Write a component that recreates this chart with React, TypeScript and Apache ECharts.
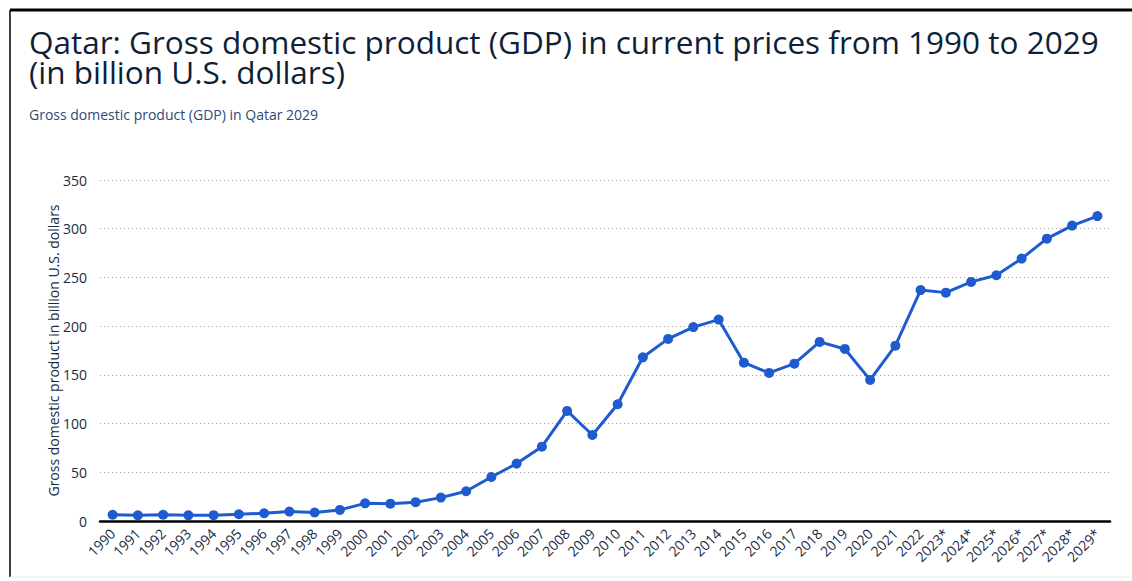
import React, { useEffect, useRef } from "react";
import * as echarts from "echarts";

const years = [
  "1990", "1991", "1992", "1993", "1994", "1995", "1996", "1997", "1998", "1999",
  "2000", "2001", "2002", "2003", "2004", "2005", "2006", "2007", "2008", "2009",
  "2010", "2011", "2012", "2013", "2014", "2015", "2016", "2017", "2018", "2019",
  "2020", "2021", "2022", "2023*", "2024*", "2025*", "2026*", "2027*", "2028*", "2029*",
];

const gdp = [
  6.4, 5.8, 6.4, 5.8, 6.0, 6.9, 8.0, 9.7, 8.7, 11.4,
  18.1, 17.8, 19.3, 24.0, 30.5, 45.2, 58.9, 76.3, 113.0, 88.3,
  119.8, 168.0, 186.9, 199.0, 206.7, 162.5, 152.0, 161.5, 183.8, 176.6,
  144.8, 180.0, 237.0, 234.4, 245.4, 252.2, 269.3, 289.8, 303.2, 313.0,
];

const titleLine1 = "Qatar: Gross domestic product (GDP) in current prices from 1990 to 2029";
const titleLine2 = "(in billion U.S. dollars)";
const subtitleText = "Gross domestic product (GDP) in Qatar 2029";
const yAxisName = "Gross domestic product in billion U.S. dollars";

const FONT = "'Open Sans', 'Noto Sans', sans-serif";

export default function App() {
  const ref = useRef<HTMLDivElement>(null);

  useEffect(() => {
    if (!ref.current) return;
    const chart = echarts.init(ref.current, undefined, { renderer: "svg" });
    const titleStyle = {
      fontFamily: FONT,
      fontSize: 31.5,
      lineHeight: 29,
      fontWeight: "normal",
      color: "#0f1f38",
    };
    chart.setOption({
      animation: false,
      backgroundColor: "#ffffff",
      textStyle: { fontFamily: FONT },
      title: [
        { text: titleLine1, left: 29, top: 27, padding: 0, textStyle: titleStyle },
        { text: titleLine2, left: 29, top: 57, padding: 0, textStyle: titleStyle },
        {
          text: subtitleText,
          left: 29,
          top: 107,
          padding: 0,
          textStyle: {
            fontFamily: FONT,
            fontSize: 14,
            fontWeight: "normal",
            color: "#2c4a78",
          },
        },
      ],
      graphic: [
        { type: "line", shape: { x1: 10, y1: 10, x2: 1132, y2: 10 }, style: { stroke: "#000", lineWidth: 3 } },
        { type: "line", shape: { x1: 10, y1: 10, x2: 10, y2: 577 }, style: { stroke: "#000", lineWidth: 1.5 } },
        { type: "line", shape: { x1: 10, y1: 577, x2: 1132, y2: 577 }, style: { stroke: "#ececec", lineWidth: 1 } },
      ],
      grid: { left: 100, right: 22, top: 180, bottom: 60, containLabel: false },
      xAxis: {
        type: "category",
        data: years,
        boundaryGap: true,
        axisLine: { show: true, lineStyle: { color: "#000", width: 2.5 } },
        axisTick: { show: false },
        axisLabel: {
          rotate: 45,
          interval: 0,
          margin: 10,
          fontFamily: FONT,
          fontSize: 14,
          color: "#1b2a44",
        },
        splitLine: { show: false },
      },
      yAxis: {
        type: "value",
        min: 0,
        max: 350,
        interval: 50,
        name: yAxisName,
        nameLocation: "middle",
        nameGap: 40,
        nameMoveOverlap: false,
        nameTextStyle: { fontFamily: FONT, fontSize: 14, color: "#1b2a44" },
        axisLine: { show: false },
        axisTick: { show: false },
        axisLabel: { margin: 13, fontFamily: FONT, fontSize: 14, color: "#1b2a44" },
        splitLine: { show: true, lineStyle: { color: "#a0a0a0", type: [1, 3], width: 1 } },
      },
      series: [
        {
          type: "line",
          data: gdp,
          symbol: "circle",
          symbolSize: 10,
          showSymbol: true,
          lineStyle: { color: "#1f5bd0", width: 3 },
          itemStyle: { color: "#1f5bd0" },
          z: 3,
        },
      ],
    });
    return () => chart.dispose();
  }, []);

  return (
    <div
      ref={ref}
      style={{ position: "absolute", left: 0, top: 0, width: 1132, height: 581 }}
    />
  );
}
